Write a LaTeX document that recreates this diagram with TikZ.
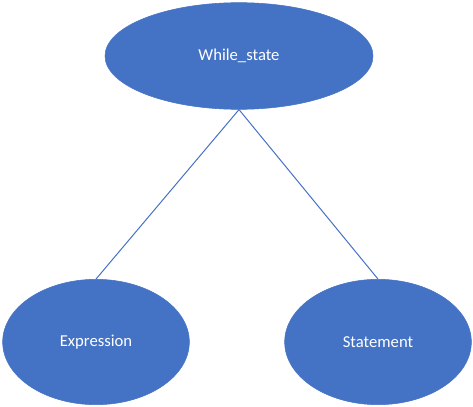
\documentclass[tikz,border=0pt]{standalone}
\usepackage{fontspec}
\setmainfont{Carlito}
\usetikzlibrary{shapes.geometric}
\definecolor{nodeblue}{HTML}{4472C4}
\begin{document}
\begin{tikzpicture}[x=0.75pt,y=-0.75pt]
\tikzstyle{stato} = [ellipse, fill=nodeblue, draw=nodeblue, inner sep=0pt, text=white, font=\fontsize{12.5}{15}\selectfont]
\tikzstyle{ramo} = [draw=nodeblue, line width=0.75pt]
\useasboundingbox (0,0) rectangle (473,406);
\node[stato, minimum width=201pt, minimum height=80pt] (w) at (239,56) {While\_state};
\node[stato, minimum width=140pt, minimum height=94pt] (e) at (96,342) {Expression};
\node[stato, minimum width=140pt, minimum height=94pt] (s) at (378,342) {Statement};
\draw[ramo] (w.south) -- (e.north);
\draw[ramo] (w.south) -- (s.north);
\end{tikzpicture}
\end{document}
